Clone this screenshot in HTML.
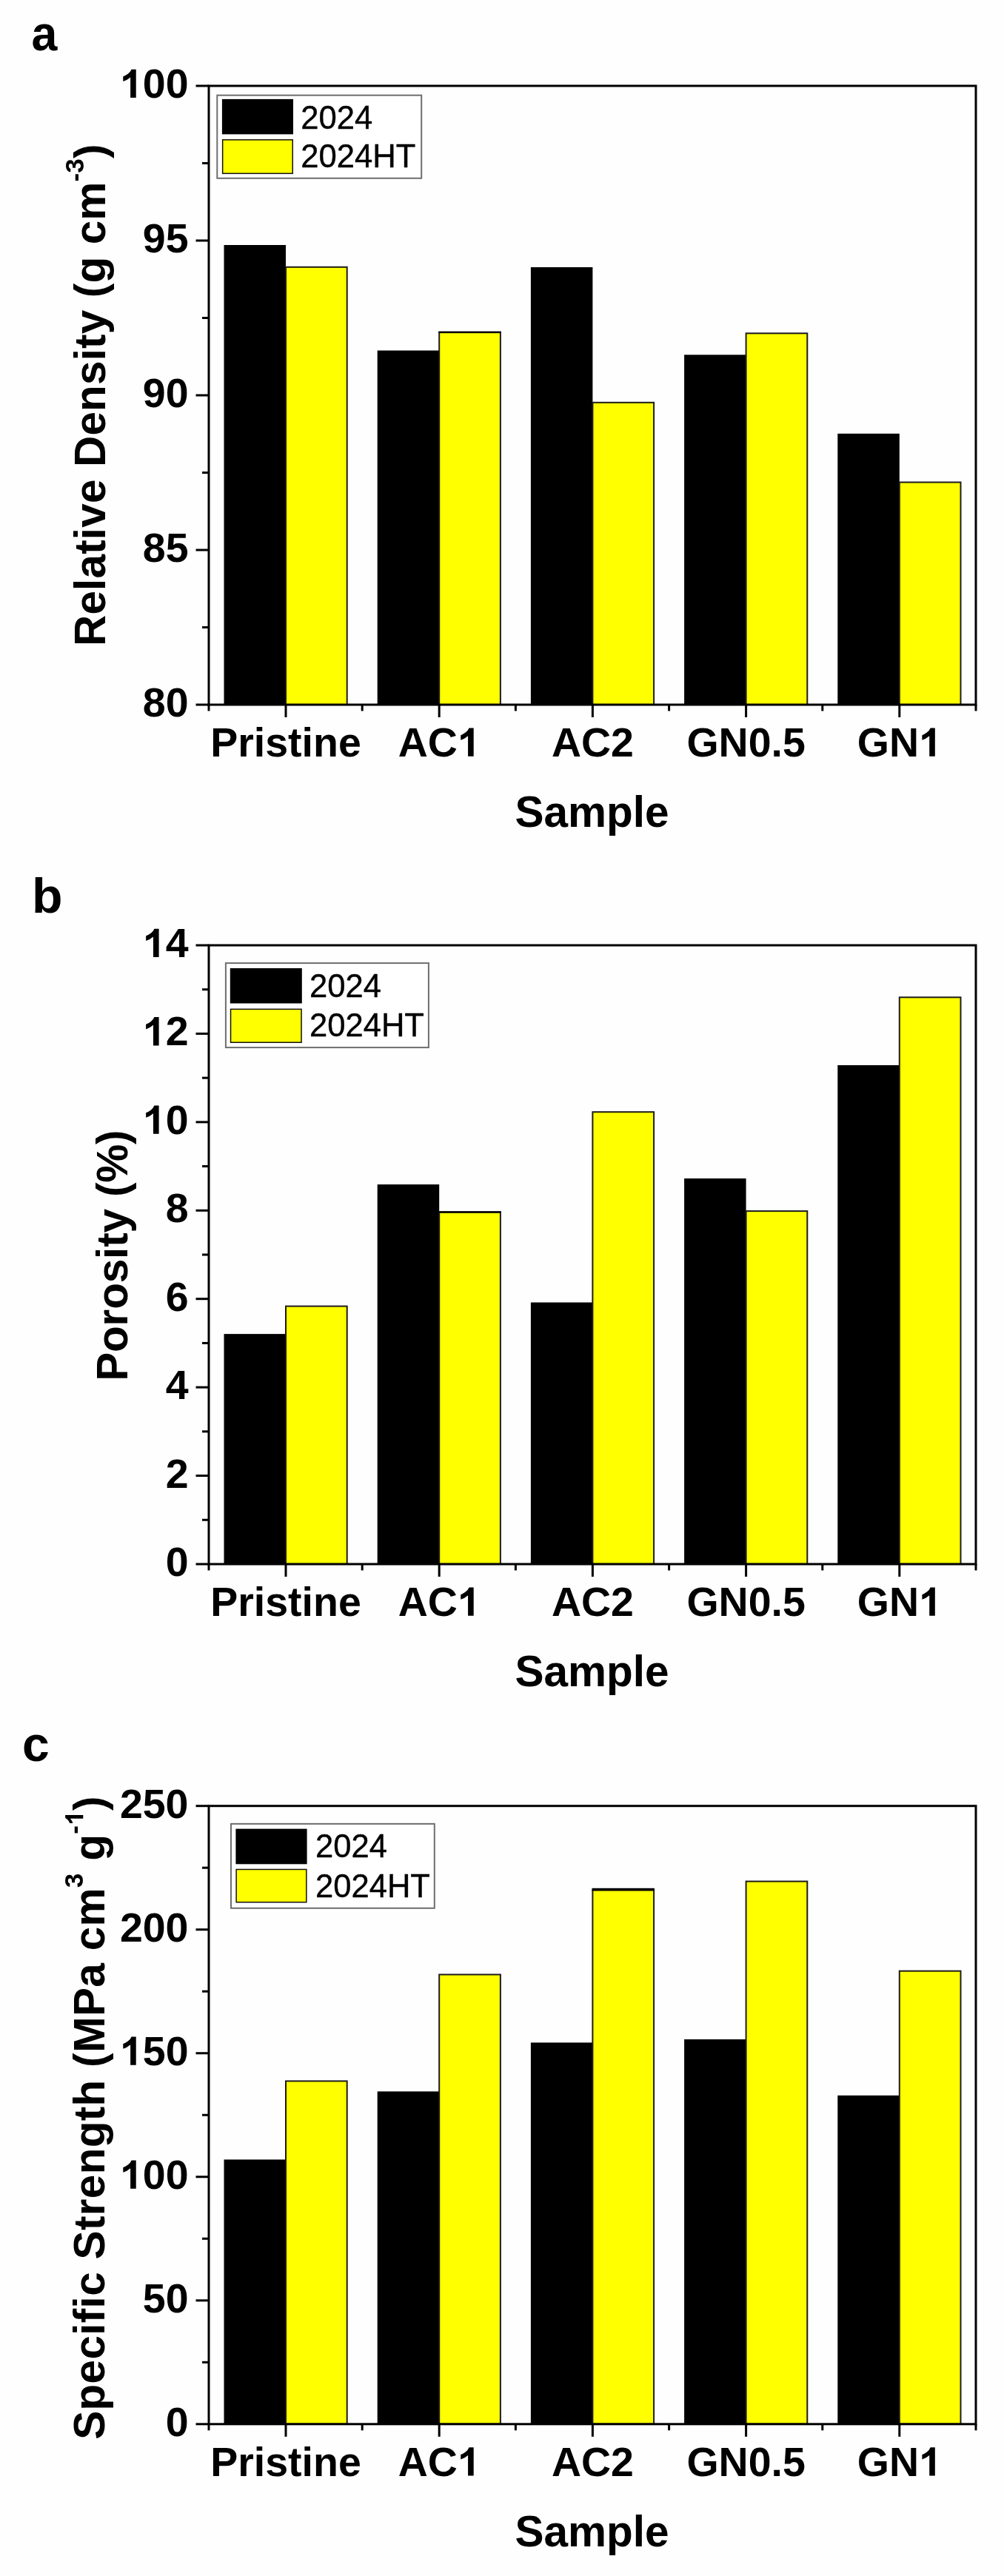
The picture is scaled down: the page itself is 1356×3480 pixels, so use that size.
<!DOCTYPE html>
<html><head><meta charset="utf-8"><title>Figure</title>
<style>
html,body{margin:0;padding:0;background:#fefefe;}
body{width:1356px;height:3480px;overflow:hidden;font-family:"Liberation Sans",sans-serif;}
svg{display:block;filter:blur(0.75px);}
.h{fill:none;}
</style></head><body>
<svg width="1356" height="3480" viewBox="0 0 1356 3480">
<rect width="1356" height="3480" fill="#fefefe"/>
<g font-family="'Liberation Sans', sans-serif" fill="#000">
<rect x="302.50" y="331.00" width="83.50" height="621.00" fill="#000"/>
<rect x="386.00" y="360.80" width="82.70" height="591.20" fill="#ffff00" stroke="#1c1c1c" stroke-width="2"/>
<rect x="509.70" y="473.50" width="83.50" height="478.50" fill="#000"/>
<rect x="593.20" y="448.80" width="82.70" height="503.20" fill="#ffff00" stroke="#1c1c1c" stroke-width="2"/>
<rect x="592.40" y="447.70" width="84.30" height="2.4" fill="#000"/>
<rect x="716.90" y="361.00" width="83.50" height="591.00" fill="#000"/>
<rect x="800.40" y="543.80" width="82.70" height="408.20" fill="#ffff00" stroke="#1c1c1c" stroke-width="2"/>
<rect x="924.10" y="479.30" width="83.50" height="472.70" fill="#000"/>
<rect x="1007.60" y="450.30" width="82.70" height="501.70" fill="#ffff00" stroke="#1c1c1c" stroke-width="2"/>
<rect x="1131.30" y="585.80" width="83.50" height="366.20" fill="#000"/>
<rect x="1214.80" y="651.50" width="82.70" height="300.50" fill="#ffff00" stroke="#1c1c1c" stroke-width="2"/>
<rect x="282.0" y="116.0" width="1036.0" height="836.0" fill="none" stroke="#000" stroke-width="3"/>
<line x1="264.5" y1="952.00" x2="282.0" y2="952.00" stroke="#000" stroke-width="3"/>
<text transform="translate(254.50,968.00) scale(1.0,1)" font-size="55.5" font-weight="bold" text-anchor="end" >80</text>
<line x1="273.0" y1="847.50" x2="282.0" y2="847.50" stroke="#000" stroke-width="3"/>
<line x1="264.5" y1="743.00" x2="282.0" y2="743.00" stroke="#000" stroke-width="3"/>
<text transform="translate(254.50,759.00) scale(1.0,1)" font-size="55.5" font-weight="bold" text-anchor="end" >85</text>
<line x1="273.0" y1="638.50" x2="282.0" y2="638.50" stroke="#000" stroke-width="3"/>
<line x1="264.5" y1="534.00" x2="282.0" y2="534.00" stroke="#000" stroke-width="3"/>
<text transform="translate(254.50,550.00) scale(1.0,1)" font-size="55.5" font-weight="bold" text-anchor="end" >90</text>
<line x1="273.0" y1="429.50" x2="282.0" y2="429.50" stroke="#000" stroke-width="3"/>
<line x1="264.5" y1="325.00" x2="282.0" y2="325.00" stroke="#000" stroke-width="3"/>
<text transform="translate(254.50,341.00) scale(1.0,1)" font-size="55.5" font-weight="bold" text-anchor="end" >95</text>
<line x1="273.0" y1="220.50" x2="282.0" y2="220.50" stroke="#000" stroke-width="3"/>
<line x1="264.5" y1="116.00" x2="282.0" y2="116.00" stroke="#000" stroke-width="3"/>
<text transform="translate(254.50,132.00) scale(1.0,1)" font-size="55.5" font-weight="bold" text-anchor="end" ><tspan class="h">1</tspan>00</text>
<line x1="386.00" y1="952.0" x2="386.00" y2="969.0" stroke="#000" stroke-width="3"/>
<text transform="translate(386.00,1021.80) scale(1.0,1)" font-size="55.5" font-weight="bold" text-anchor="middle" >Pristine</text>
<line x1="593.20" y1="952.0" x2="593.20" y2="969.0" stroke="#000" stroke-width="3"/>
<text transform="translate(593.20,1021.80) scale(1.0,1)" font-size="55.5" font-weight="bold" text-anchor="middle" >AC<tspan class="h">1</tspan></text>
<line x1="800.40" y1="952.0" x2="800.40" y2="969.0" stroke="#000" stroke-width="3"/>
<text transform="translate(800.40,1021.80) scale(1.0,1)" font-size="55.5" font-weight="bold" text-anchor="middle" >AC2</text>
<line x1="1007.60" y1="952.0" x2="1007.60" y2="969.0" stroke="#000" stroke-width="3"/>
<text transform="translate(1007.60,1021.80) scale(1.0,1)" font-size="55.5" font-weight="bold" text-anchor="middle" >GN0.5</text>
<line x1="1214.80" y1="952.0" x2="1214.80" y2="969.0" stroke="#000" stroke-width="3"/>
<text transform="translate(1214.80,1021.80) scale(1.0,1)" font-size="55.5" font-weight="bold" text-anchor="middle" >GN<tspan class="h">1</tspan></text>
<line x1="282.00" y1="952.0" x2="282.00" y2="960.5" stroke="#000" stroke-width="3"/>
<line x1="489.20" y1="952.0" x2="489.20" y2="960.5" stroke="#000" stroke-width="3"/>
<line x1="696.40" y1="952.0" x2="696.40" y2="960.5" stroke="#000" stroke-width="3"/>
<line x1="903.60" y1="952.0" x2="903.60" y2="960.5" stroke="#000" stroke-width="3"/>
<line x1="1110.80" y1="952.0" x2="1110.80" y2="960.5" stroke="#000" stroke-width="3"/>
<line x1="1318.00" y1="952.0" x2="1318.00" y2="960.5" stroke="#000" stroke-width="3"/>
<text transform="translate(799.50,1117.00) scale(1.0,1)" font-size="58.5" font-weight="bold" text-anchor="middle" >Sample</text>
<text transform="translate(42.40,68.00) scale(0.95,1)" font-size="66" font-weight="bold" text-anchor="start" >a</text>
<text transform="translate(141.50,533.70) scale(1.0,1) rotate(-90)" font-size="58.5" font-weight="bold" text-anchor="middle" letter-spacing="0.15"><tspan>Relative&#160;Density&#160;(g&#160;cm</tspan><tspan font-size="35" dy="-29">-3</tspan><tspan dy="29">)</tspan></text>
<rect x="293.3" y="128.7" width="275.9" height="112.1" fill="#fff" stroke="#6e6e6e" stroke-width="2"/>
<rect x="299.9" y="133.9" width="96.1" height="47.5" fill="#000"/>
<rect x="300.65" y="188.85" width="94.6" height="45.5" fill="#ffff00" stroke="#111" stroke-width="1.5"/>
<text transform="translate(406.20,173.90) scale(1.0,1)" font-size="43.6" font-weight="normal" text-anchor="start" stroke="#000" stroke-width="0.4">2024</text>
<text transform="translate(406.20,225.90) scale(1.0,1)" font-size="43.6" font-weight="normal" text-anchor="start" stroke="#000" stroke-width="0.4">2024HT</text>
<rect x="302.50" y="1802.10" width="83.50" height="310.90" fill="#000"/>
<rect x="386.00" y="1764.60" width="82.70" height="348.40" fill="#ffff00" stroke="#1c1c1c" stroke-width="2"/>
<rect x="509.70" y="1600.10" width="83.50" height="512.90" fill="#000"/>
<rect x="593.20" y="1637.40" width="82.70" height="475.60" fill="#ffff00" stroke="#1c1c1c" stroke-width="2"/>
<rect x="592.40" y="1636.30" width="84.30" height="2.4" fill="#000"/>
<rect x="716.90" y="1759.50" width="83.50" height="353.50" fill="#000"/>
<rect x="800.40" y="1502.20" width="82.70" height="610.80" fill="#ffff00" stroke="#1c1c1c" stroke-width="2"/>
<rect x="924.10" y="1592.00" width="83.50" height="521.00" fill="#000"/>
<rect x="1007.60" y="1636.10" width="82.70" height="476.90" fill="#ffff00" stroke="#1c1c1c" stroke-width="2"/>
<rect x="1131.30" y="1439.00" width="83.50" height="674.00" fill="#000"/>
<rect x="1214.80" y="1347.30" width="82.70" height="765.70" fill="#ffff00" stroke="#1c1c1c" stroke-width="2"/>
<rect x="282.0" y="1277.0" width="1036.0" height="836.0" fill="none" stroke="#000" stroke-width="3"/>
<line x1="264.5" y1="2113.00" x2="282.0" y2="2113.00" stroke="#000" stroke-width="3"/>
<text transform="translate(254.50,2129.00) scale(1.0,1)" font-size="55.5" font-weight="bold" text-anchor="end" >0</text>
<line x1="273.0" y1="2053.29" x2="282.0" y2="2053.29" stroke="#000" stroke-width="3"/>
<line x1="264.5" y1="1993.57" x2="282.0" y2="1993.57" stroke="#000" stroke-width="3"/>
<text transform="translate(254.50,2009.57) scale(1.0,1)" font-size="55.5" font-weight="bold" text-anchor="end" >2</text>
<line x1="273.0" y1="1933.86" x2="282.0" y2="1933.86" stroke="#000" stroke-width="3"/>
<line x1="264.5" y1="1874.14" x2="282.0" y2="1874.14" stroke="#000" stroke-width="3"/>
<text transform="translate(254.50,1890.14) scale(1.0,1)" font-size="55.5" font-weight="bold" text-anchor="end" >4</text>
<line x1="273.0" y1="1814.43" x2="282.0" y2="1814.43" stroke="#000" stroke-width="3"/>
<line x1="264.5" y1="1754.71" x2="282.0" y2="1754.71" stroke="#000" stroke-width="3"/>
<text transform="translate(254.50,1770.71) scale(1.0,1)" font-size="55.5" font-weight="bold" text-anchor="end" >6</text>
<line x1="273.0" y1="1695.00" x2="282.0" y2="1695.00" stroke="#000" stroke-width="3"/>
<line x1="264.5" y1="1635.29" x2="282.0" y2="1635.29" stroke="#000" stroke-width="3"/>
<text transform="translate(254.50,1651.29) scale(1.0,1)" font-size="55.5" font-weight="bold" text-anchor="end" >8</text>
<line x1="273.0" y1="1575.57" x2="282.0" y2="1575.57" stroke="#000" stroke-width="3"/>
<line x1="264.5" y1="1515.86" x2="282.0" y2="1515.86" stroke="#000" stroke-width="3"/>
<text transform="translate(254.50,1531.86) scale(1.0,1)" font-size="55.5" font-weight="bold" text-anchor="end" ><tspan class="h">1</tspan>0</text>
<line x1="273.0" y1="1456.14" x2="282.0" y2="1456.14" stroke="#000" stroke-width="3"/>
<line x1="264.5" y1="1396.43" x2="282.0" y2="1396.43" stroke="#000" stroke-width="3"/>
<text transform="translate(254.50,1412.43) scale(1.0,1)" font-size="55.5" font-weight="bold" text-anchor="end" ><tspan class="h">1</tspan>2</text>
<line x1="273.0" y1="1336.71" x2="282.0" y2="1336.71" stroke="#000" stroke-width="3"/>
<line x1="264.5" y1="1277.00" x2="282.0" y2="1277.00" stroke="#000" stroke-width="3"/>
<text transform="translate(254.50,1293.00) scale(1.0,1)" font-size="55.5" font-weight="bold" text-anchor="end" ><tspan class="h">1</tspan>4</text>
<line x1="386.00" y1="2113.0" x2="386.00" y2="2130.0" stroke="#000" stroke-width="3"/>
<text transform="translate(386.00,2182.80) scale(1.0,1)" font-size="55.5" font-weight="bold" text-anchor="middle" >Pristine</text>
<line x1="593.20" y1="2113.0" x2="593.20" y2="2130.0" stroke="#000" stroke-width="3"/>
<text transform="translate(593.20,2182.80) scale(1.0,1)" font-size="55.5" font-weight="bold" text-anchor="middle" >AC<tspan class="h">1</tspan></text>
<line x1="800.40" y1="2113.0" x2="800.40" y2="2130.0" stroke="#000" stroke-width="3"/>
<text transform="translate(800.40,2182.80) scale(1.0,1)" font-size="55.5" font-weight="bold" text-anchor="middle" >AC2</text>
<line x1="1007.60" y1="2113.0" x2="1007.60" y2="2130.0" stroke="#000" stroke-width="3"/>
<text transform="translate(1007.60,2182.80) scale(1.0,1)" font-size="55.5" font-weight="bold" text-anchor="middle" >GN0.5</text>
<line x1="1214.80" y1="2113.0" x2="1214.80" y2="2130.0" stroke="#000" stroke-width="3"/>
<text transform="translate(1214.80,2182.80) scale(1.0,1)" font-size="55.5" font-weight="bold" text-anchor="middle" >GN<tspan class="h">1</tspan></text>
<line x1="282.00" y1="2113.0" x2="282.00" y2="2121.5" stroke="#000" stroke-width="3"/>
<line x1="489.20" y1="2113.0" x2="489.20" y2="2121.5" stroke="#000" stroke-width="3"/>
<line x1="696.40" y1="2113.0" x2="696.40" y2="2121.5" stroke="#000" stroke-width="3"/>
<line x1="903.60" y1="2113.0" x2="903.60" y2="2121.5" stroke="#000" stroke-width="3"/>
<line x1="1110.80" y1="2113.0" x2="1110.80" y2="2121.5" stroke="#000" stroke-width="3"/>
<line x1="1318.00" y1="2113.0" x2="1318.00" y2="2121.5" stroke="#000" stroke-width="3"/>
<text transform="translate(799.50,2278.00) scale(1.0,1)" font-size="58.5" font-weight="bold" text-anchor="middle" >Sample</text>
<text transform="translate(43.00,1233.40) scale(1.03,1)" font-size="66" font-weight="bold" text-anchor="start" >b</text>
<text transform="translate(171.60,1696.20) scale(1.0,1) rotate(-90)" font-size="58.5" font-weight="bold" text-anchor="middle" letter-spacing="-0.17"><tspan>Porosity&#160;(%)</tspan></text>
<rect x="304.9" y="1301.1" width="274.0" height="114.0" fill="#fff" stroke="#6e6e6e" stroke-width="2"/>
<rect x="310.8" y="1308.0" width="97.0" height="47.5" fill="#000"/>
<rect x="311.55" y="1363.35" width="95.5" height="44.9" fill="#ffff00" stroke="#111" stroke-width="1.5"/>
<text transform="translate(417.90,1346.50) scale(1.0,1)" font-size="43.6" font-weight="normal" text-anchor="start" stroke="#000" stroke-width="0.4">2024</text>
<text transform="translate(417.90,1399.90) scale(1.0,1)" font-size="43.6" font-weight="normal" text-anchor="start" stroke="#000" stroke-width="0.4">2024HT</text>
<rect x="302.50" y="2917.40" width="83.50" height="357.40" fill="#000"/>
<rect x="386.00" y="2811.40" width="82.70" height="463.40" fill="#ffff00" stroke="#1c1c1c" stroke-width="2"/>
<rect x="509.70" y="2825.40" width="83.50" height="449.40" fill="#000"/>
<rect x="593.20" y="2667.50" width="82.70" height="607.30" fill="#ffff00" stroke="#1c1c1c" stroke-width="2"/>
<rect x="716.90" y="2759.40" width="83.50" height="515.40" fill="#000"/>
<rect x="800.40" y="2553.20" width="82.70" height="721.60" fill="#ffff00" stroke="#1c1c1c" stroke-width="2"/>
<rect x="799.60" y="2550.80" width="84.30" height="3.6" fill="#000"/>
<rect x="924.10" y="2755.00" width="83.50" height="519.80" fill="#000"/>
<rect x="1007.60" y="2541.60" width="82.70" height="733.20" fill="#ffff00" stroke="#1c1c1c" stroke-width="2"/>
<rect x="1131.30" y="2830.80" width="83.50" height="444.00" fill="#000"/>
<rect x="1214.80" y="2662.70" width="82.70" height="612.10" fill="#ffff00" stroke="#1c1c1c" stroke-width="2"/>
<rect x="282.0" y="2439.7" width="1036.0" height="835.1000000000004" fill="none" stroke="#000" stroke-width="3"/>
<line x1="264.5" y1="3274.80" x2="282.0" y2="3274.80" stroke="#000" stroke-width="3"/>
<text transform="translate(254.50,3290.80) scale(1.0,1)" font-size="55.5" font-weight="bold" text-anchor="end" >0</text>
<line x1="273.0" y1="3191.29" x2="282.0" y2="3191.29" stroke="#000" stroke-width="3"/>
<line x1="264.5" y1="3107.78" x2="282.0" y2="3107.78" stroke="#000" stroke-width="3"/>
<text transform="translate(254.50,3123.78) scale(1.0,1)" font-size="55.5" font-weight="bold" text-anchor="end" >50</text>
<line x1="273.0" y1="3024.27" x2="282.0" y2="3024.27" stroke="#000" stroke-width="3"/>
<line x1="264.5" y1="2940.76" x2="282.0" y2="2940.76" stroke="#000" stroke-width="3"/>
<text transform="translate(254.50,2956.76) scale(1.0,1)" font-size="55.5" font-weight="bold" text-anchor="end" ><tspan class="h">1</tspan>00</text>
<line x1="273.0" y1="2857.25" x2="282.0" y2="2857.25" stroke="#000" stroke-width="3"/>
<line x1="264.5" y1="2773.74" x2="282.0" y2="2773.74" stroke="#000" stroke-width="3"/>
<text transform="translate(254.50,2789.74) scale(1.0,1)" font-size="55.5" font-weight="bold" text-anchor="end" ><tspan class="h">1</tspan>50</text>
<line x1="273.0" y1="2690.23" x2="282.0" y2="2690.23" stroke="#000" stroke-width="3"/>
<line x1="264.5" y1="2606.72" x2="282.0" y2="2606.72" stroke="#000" stroke-width="3"/>
<text transform="translate(254.50,2622.72) scale(1.0,1)" font-size="55.5" font-weight="bold" text-anchor="end" >200</text>
<line x1="273.0" y1="2523.21" x2="282.0" y2="2523.21" stroke="#000" stroke-width="3"/>
<line x1="264.5" y1="2439.70" x2="282.0" y2="2439.70" stroke="#000" stroke-width="3"/>
<text transform="translate(254.50,2455.70) scale(1.0,1)" font-size="55.5" font-weight="bold" text-anchor="end" >250</text>
<line x1="386.00" y1="3274.8" x2="386.00" y2="3291.8" stroke="#000" stroke-width="3"/>
<text transform="translate(386.00,3344.60) scale(1.0,1)" font-size="55.5" font-weight="bold" text-anchor="middle" >Pristine</text>
<line x1="593.20" y1="3274.8" x2="593.20" y2="3291.8" stroke="#000" stroke-width="3"/>
<text transform="translate(593.20,3344.60) scale(1.0,1)" font-size="55.5" font-weight="bold" text-anchor="middle" >AC<tspan class="h">1</tspan></text>
<line x1="800.40" y1="3274.8" x2="800.40" y2="3291.8" stroke="#000" stroke-width="3"/>
<text transform="translate(800.40,3344.60) scale(1.0,1)" font-size="55.5" font-weight="bold" text-anchor="middle" >AC2</text>
<line x1="1007.60" y1="3274.8" x2="1007.60" y2="3291.8" stroke="#000" stroke-width="3"/>
<text transform="translate(1007.60,3344.60) scale(1.0,1)" font-size="55.5" font-weight="bold" text-anchor="middle" >GN0.5</text>
<line x1="1214.80" y1="3274.8" x2="1214.80" y2="3291.8" stroke="#000" stroke-width="3"/>
<text transform="translate(1214.80,3344.60) scale(1.0,1)" font-size="55.5" font-weight="bold" text-anchor="middle" >GN<tspan class="h">1</tspan></text>
<line x1="282.00" y1="3274.8" x2="282.00" y2="3283.3" stroke="#000" stroke-width="3"/>
<line x1="489.20" y1="3274.8" x2="489.20" y2="3283.3" stroke="#000" stroke-width="3"/>
<line x1="696.40" y1="3274.8" x2="696.40" y2="3283.3" stroke="#000" stroke-width="3"/>
<line x1="903.60" y1="3274.8" x2="903.60" y2="3283.3" stroke="#000" stroke-width="3"/>
<line x1="1110.80" y1="3274.8" x2="1110.80" y2="3283.3" stroke="#000" stroke-width="3"/>
<line x1="1318.00" y1="3274.8" x2="1318.00" y2="3283.3" stroke="#000" stroke-width="3"/>
<text transform="translate(799.50,3439.80) scale(1.0,1)" font-size="58.5" font-weight="bold" text-anchor="middle" >Sample</text>
<text transform="translate(30.00,2378.60) scale(1.0,1)" font-size="66" font-weight="bold" text-anchor="start" >c</text>
<text transform="translate(141.30,2861.00) scale(1.0,1) rotate(-90)" font-size="58.5" font-weight="bold" text-anchor="middle" letter-spacing="0.31"><tspan>Specific&#160;Strength&#160;(MPa&#160;cm</tspan><tspan font-size="35" dy="-29">3</tspan><tspan dy="29">&#160;g</tspan><tspan font-size="35" dy="-29">-<tspan class="h">1</tspan></tspan><tspan dy="29">)</tspan></text>
<rect x="312.0" y="2463.9" width="274.8" height="113.9" fill="#fff" stroke="#6e6e6e" stroke-width="2"/>
<rect x="318.4" y="2470.6" width="96.2" height="47.7" fill="#000"/>
<rect x="319.15" y="2525.45" width="94.7" height="44.3" fill="#ffff00" stroke="#111" stroke-width="1.5"/>
<text transform="translate(425.90,2508.80) scale(1.0,1)" font-size="43.6" font-weight="normal" text-anchor="start" stroke="#000" stroke-width="0.4">2024</text>
<text transform="translate(425.90,2562.60) scale(1.0,1)" font-size="43.6" font-weight="normal" text-anchor="start" stroke="#000" stroke-width="0.4">2024HT</text>
<g transform="translate(254.50,132.00) scale(1.0,1)"><path d="M806 0H525V1059Q371 915 162 846V1101Q272 1137 401 1237.5Q530 1338 578 1472H806Z" transform="translate(-92.61,0.00) scale(0.02710,-0.02604)"/></g>
<g transform="translate(593.20,1021.80) scale(1.0,1)"><path d="M806 0H525V1059Q371 915 162 846V1101Q272 1137 401 1237.5Q530 1338 578 1472H806Z" transform="translate(24.65,0.00) scale(0.02710,-0.02604)"/></g>
<g transform="translate(1214.80,1021.80) scale(1.0,1)"><path d="M806 0H525V1059Q371 915 162 846V1101Q272 1137 401 1237.5Q530 1338 578 1472H806Z" transform="translate(26.19,0.00) scale(0.02710,-0.02604)"/></g>
<g transform="translate(254.50,1531.86) scale(1.0,1)"><path d="M806 0H525V1059Q371 915 162 846V1101Q272 1137 401 1237.5Q530 1338 578 1472H806Z" transform="translate(-61.75,0.00) scale(0.02710,-0.02604)"/></g>
<g transform="translate(254.50,1412.43) scale(1.0,1)"><path d="M806 0H525V1059Q371 915 162 846V1101Q272 1137 401 1237.5Q530 1338 578 1472H806Z" transform="translate(-61.75,0.00) scale(0.02710,-0.02604)"/></g>
<g transform="translate(254.50,1293.00) scale(1.0,1)"><path d="M806 0H525V1059Q371 915 162 846V1101Q272 1137 401 1237.5Q530 1338 578 1472H806Z" transform="translate(-61.75,0.00) scale(0.02710,-0.02604)"/></g>
<g transform="translate(593.20,2182.80) scale(1.0,1)"><path d="M806 0H525V1059Q371 915 162 846V1101Q272 1137 401 1237.5Q530 1338 578 1472H806Z" transform="translate(24.65,0.00) scale(0.02710,-0.02604)"/></g>
<g transform="translate(1214.80,2182.80) scale(1.0,1)"><path d="M806 0H525V1059Q371 915 162 846V1101Q272 1137 401 1237.5Q530 1338 578 1472H806Z" transform="translate(26.19,0.00) scale(0.02710,-0.02604)"/></g>
<g transform="translate(254.50,2956.76) scale(1.0,1)"><path d="M806 0H525V1059Q371 915 162 846V1101Q272 1137 401 1237.5Q530 1338 578 1472H806Z" transform="translate(-92.61,0.00) scale(0.02710,-0.02604)"/></g>
<g transform="translate(254.50,2789.74) scale(1.0,1)"><path d="M806 0H525V1059Q371 915 162 846V1101Q272 1137 401 1237.5Q530 1338 578 1472H806Z" transform="translate(-92.61,0.00) scale(0.02710,-0.02604)"/></g>
<g transform="translate(593.20,3344.60) scale(1.0,1)"><path d="M806 0H525V1059Q371 915 162 846V1101Q272 1137 401 1237.5Q530 1338 578 1472H806Z" transform="translate(24.65,0.00) scale(0.02710,-0.02604)"/></g>
<g transform="translate(1214.80,3344.60) scale(1.0,1)"><path d="M806 0H525V1059Q371 915 162 846V1101Q272 1137 401 1237.5Q530 1338 578 1472H806Z" transform="translate(26.19,0.00) scale(0.02710,-0.02604)"/></g>
<g transform="translate(141.30,2861.00) scale(1.0,1) rotate(-90)"><path d="M806 0H525V1059Q371 915 162 846V1101Q272 1137 401 1237.5Q530 1338 578 1472H806Z" transform="translate(395.22,-29.00) scale(0.01709,-0.01642)"/></g>
</g></svg>
</body></html>
